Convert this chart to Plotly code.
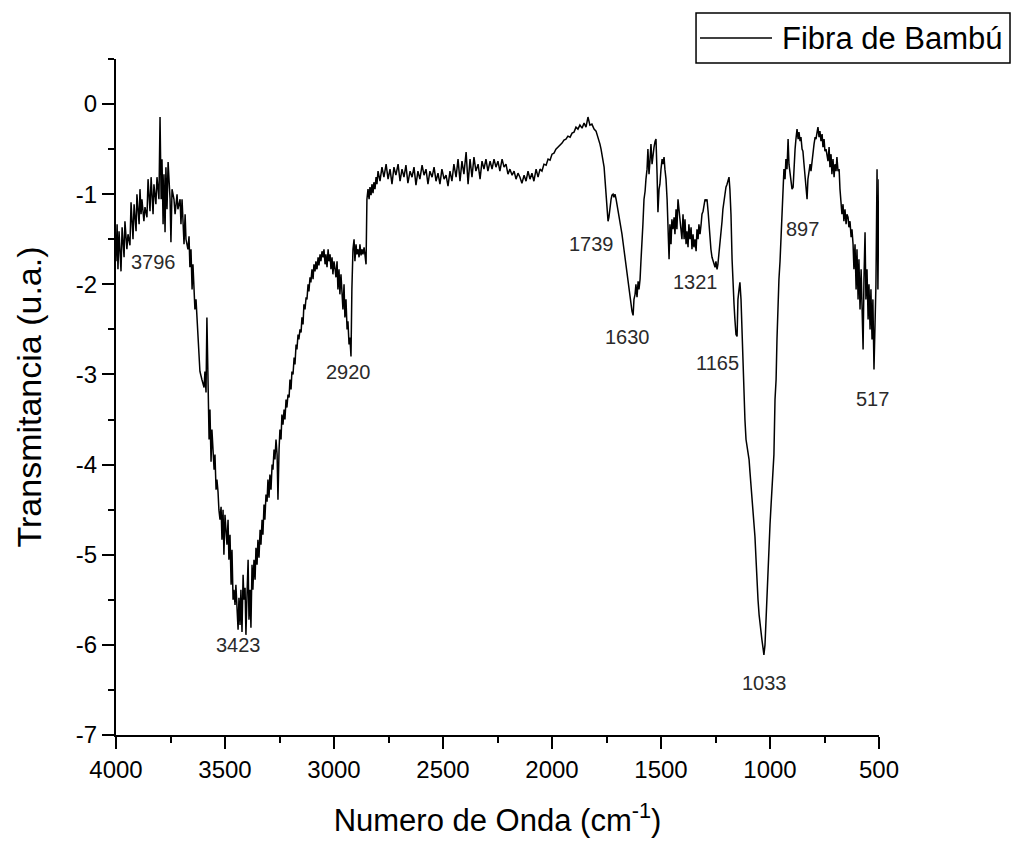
import plotly.graph_objects as go

# FTIR spectrum of bamboo fibre
wavenumber = [
    4000, 3995, 3991, 3986, 3977, 3972, 3963, 3959, 3950, 3945, 3936, 3931, 3922, 3917, 3908, 3904,
    3894, 3890, 3885, 3881, 3872, 3867, 3858, 3853, 3844, 3839, 3830, 3826, 3817, 3812, 3803, 3798,
    3793, 3789, 3784, 3780, 3775, 3771, 3766, 3761, 3752, 3748, 3743, 3734, 3729, 3720, 3716, 3706,
    3702, 3697, 3688, 3683, 3679, 3670, 3665, 3661, 3656, 3651, 3647, 3642, 3638,
    3633, 3628, 3624, 3619, 3615, 3606, 3596, 3592, 3587, 3583, 3578, 3573, 3569, 3564, 3560, 3555,
    3550, 3546, 3541, 3537, 3532, 3528, 3523, 3518, 3514, 3509, 3505, 3500, 3495, 3491, 3486, 3482,
    3477, 3472, 3468, 3463, 3459, 3454, 3450, 3445, 3440, 3436, 3431, 3427, 3422, 3417, 3413, 3408,
    3404, 3399, 3394, 3390, 3385, 3381, 3376, 3372, 3367, 3362, 3358, 3353, 3349, 3344, 3339,
    3335, 3330, 3326, 3321, 3317, 3312, 3307, 3303, 3298, 3294, 3289, 3284, 3280, 3275, 3271, 3266,
    3261, 3257, 3252, 3248, 3243, 3239, 3234, 3229, 3225, 3220, 3216, 3211, 3206, 3202, 3197, 3193,
    3188, 3183, 3179, 3174, 3170, 3165, 3161, 3156, 3151, 3147, 3142, 3138, 3133, 3128, 3124, 3119,
    3115, 3110, 3106, 3101, 3096, 3092, 3087, 3083, 3078, 3073, 3069, 3064, 3060, 3055, 3050, 3046,
    3041, 3037, 3032, 3027, 3023, 3018, 3014, 3009, 3005, 3000, 2995, 2991, 2986, 2982, 2977, 2973,
    2968, 2963, 2959, 2954, 2950, 2945, 2940, 2936, 2931, 2927, 2922, 2918, 2913, 2908, 2904, 2899,
    2895, 2890, 2885, 2881, 2876, 2872, 2867, 2862, 2858, 2853, 2849, 2844, 2839, 2835, 2830, 2826,
    2821, 2817, 2812, 2807, 2803,
    2798, 2789, 2780, 2771, 2761, 2752, 2743, 2734, 2725, 2716, 2706, 2697, 2688, 2679, 2670, 2661,
    2651, 2642, 2633, 2624, 2615, 2606, 2596, 2587, 2578, 2569, 2560, 2550, 2541, 2532, 2523, 2514,
    2505, 2495, 2486, 2477, 2468, 2459, 2450, 2440, 2431, 2422, 2413, 2404, 2394, 2385, 2376, 2367,
    2358, 2349, 2339, 2330, 2321, 2312, 2303, 2294, 2284, 2275, 2266, 2257, 2248, 2239, 2229, 2220,
    2211, 2202, 2193, 2183, 2174, 2165, 2156, 2147, 2138, 2128, 2119, 2110, 2101, 2092, 2083, 2073,
    2064, 2055, 2046, 2037, 2027, 2018, 2009, 2000, 1991, 1982, 1972, 1963, 1954, 1945, 1936, 1927,
    1917, 1908, 1899, 1890, 1881, 1872, 1862, 1853, 1844, 1835, 1826, 1817, 1807, 1798, 1789, 1780,
    1775, 1771, 1766, 1761, 1757, 1752, 1748, 1743, 1739, 1734, 1729, 1725, 1720, 1716, 1711, 1706,
    1702, 1697, 1688, 1679, 1670, 1661, 1651, 1647, 1642, 1638, 1633, 1628, 1624, 1619, 1615, 1610,
    1605, 1601, 1596, 1592, 1587, 1583, 1578, 1573, 1569, 1564, 1560, 1555, 1550, 1546, 1541, 1537,
    1532, 1527, 1523, 1518, 1514, 1509, 1505, 1500, 1495, 1491, 1486, 1482, 1477, 1472, 1468, 1463,
    1459, 1454, 1450, 1445, 1440, 1436, 1431, 1427, 1422, 1417, 1413, 1408, 1404, 1399, 1394, 1390,
    1385, 1381, 1376, 1372, 1367, 1362, 1358, 1353, 1349, 1344, 1339, 1335, 1330, 1326, 1321, 1316,
    1312, 1307, 1303, 1298, 1294, 1289, 1284, 1280, 1275, 1271, 1266, 1261, 1257, 1252, 1248, 1243,
    1239, 1234, 1229, 1225, 1220, 1216, 1211, 1207, 1202, 1197, 1193, 1188, 1184, 1179, 1174, 1170,
    1165, 1161, 1156, 1151, 1147, 1142, 1138, 1133, 1128, 1124, 1119, 1115, 1110, 1106, 1101, 1096,
    1092, 1087, 1083, 1078, 1073, 1069, 1064, 1060, 1055, 1050, 1046, 1041, 1037, 1032, 1028, 1023,
    1018, 1014, 1009, 1005, 1000, 995, 991, 986, 982, 977, 972, 968, 963, 959, 954, 950,
    945, 940, 936, 931, 927, 922, 917, 913, 908, 904, 899, 894, 890, 885, 881, 876,
    871, 867, 862, 858, 853, 849, 844, 839, 835, 830, 826, 821, 816, 812, 807, 803,
    798, 793, 789, 784, 780, 775, 771, 766, 761, 757, 752, 748, 743, 734, 729, 725,
    720, 716, 711, 706, 702, 697, 693, 688, 683, 679, 674, 670, 665, 661, 656, 651,
    647, 642, 638, 633, 628, 624, 619, 615, 610, 605, 601, 596, 592, 587, 582, 578,
    573, 569, 564, 560, 555, 550, 546, 541, 537, 532, 528, 523, 518, 514, 509, 505, 500,
]

transmitancia = [
    -1.744, -1.333, -1.833, -1.411, -1.856, -1.367, -1.700, -1.300, -1.611, -1.444, -1.567, -1.089, -1.500, -1.111, -1.411, -1.000,
    -1.333, -0.944, -1.222, -1.056, -1.300, -1.144, -1.256, -0.833, -1.189, -0.811, -1.222, -0.889, -1.111, -0.811, -1.056, -0.144,
    -1.056, -0.611, -1.333, -0.778, -1.422, -0.700, -1.167, -0.644, -1.056, -1.533, -0.944, -1.056, -1.222, -1.000, -1.167, -1.056,
    -1.333, -1.056, -1.556, -1.222, -1.500, -1.611, -1.467, -1.811, -1.611, -2.056, -1.778, -2.167, -2.278,
    -2.167, -2.389, -2.667, -2.911, -2.967, -3.056, -3.144, -2.967, -3.200, -2.367, -3.278, -3.722, -3.389, -3.967, -3.611, -3.778,
    -4.056, -3.889, -4.278, -4.167, -4.300, -4.500, -4.611, -4.467, -4.833, -4.500, -5.000, -4.556, -4.722, -4.889, -4.611, -5.056,
    -4.778, -5.333, -4.944, -5.500, -5.389, -5.556, -5.333, -5.611, -5.833, -5.478, -5.778, -5.389, -5.856, -5.222, -5.500, -5.367,
    -5.889, -5.444, -5.056, -5.722, -5.389, -5.811, -5.111, -5.389, -5.056, -5.278, -4.922, -5.111, -4.833, -5.033, -4.722,
    -4.889, -4.611, -4.778, -4.444, -4.611, -4.333, -4.411, -4.167, -4.367, -4.111, -4.278, -4.000, -4.056, -3.833, -3.944, -3.722,
    -3.889, -4.389, -3.833, -3.611, -3.722, -3.444, -3.556, -3.389, -3.500, -3.278, -3.367, -3.222, -3.256, -3.056, -3.167, -2.967,
    -3.000, -2.811, -2.889, -2.667, -2.722, -2.556, -2.611, -2.500, -2.533, -2.367, -2.444, -2.222, -2.278, -2.144, -2.167, -2.000,
    -2.078, -1.922, -1.978, -1.833, -1.944, -1.778, -1.856, -1.744, -1.833, -1.700, -1.789, -1.667, -1.744, -1.633, -1.700, -1.611,
    -1.778, -1.667, -1.811, -1.611, -1.744, -1.667, -1.833, -1.700, -1.889, -1.744, -1.833, -1.922, -1.744, -2.056, -1.833, -2.111,
    -1.889, -2.167, -2.278, -2.000, -2.367, -2.167, -2.500, -2.411, -2.667, -2.589, -2.800, -2.056, -1.611, -1.500, -1.744, -1.556,
    -1.667, -1.611, -1.700, -1.556, -1.678, -1.611, -1.667, -1.589, -1.722, -1.778, -1.056, -0.944, -1.056, -0.922, -1.011, -0.889,
    -0.989, -0.867, -0.944, -0.811, -0.889,
    -0.744, -0.856, -0.700, -0.811, -0.667, -0.833, -0.722, -0.889, -0.700, -0.789, -0.667, -0.856, -0.722, -0.811, -0.678, -0.878,
    -0.744, -0.811, -0.700, -0.900, -0.744, -0.833, -0.678, -0.789, -0.722, -0.889, -0.744, -0.811, -0.700, -0.856, -0.767, -0.889,
    -0.722, -0.833, -0.789, -0.911, -0.744, -0.856, -0.667, -0.811, -0.611, -0.856, -0.633, -0.778, -0.533, -0.889, -0.611, -0.811,
    -0.589, -0.744, -0.667, -0.833, -0.633, -0.722, -0.611, -0.744, -0.633, -0.722, -0.611, -0.700, -0.633, -0.744, -0.611, -0.700,
    -0.667, -0.778, -0.722, -0.789, -0.744, -0.833, -0.767, -0.811, -0.878, -0.789, -0.856, -0.744, -0.833, -0.767, -0.856, -0.722,
    -0.811, -0.722, -0.744, -0.667, -0.678, -0.611, -0.622, -0.556, -0.544, -0.500, -0.478, -0.456, -0.433, -0.400, -0.389, -0.356,
    -0.367, -0.322, -0.311, -0.256, -0.278, -0.233, -0.267, -0.211, -0.256, -0.144, -0.233, -0.222, -0.278, -0.300, -0.367, -0.444,
    -0.500, -0.556, -0.633, -0.700, -0.833, -1.000, -1.167, -1.300, -1.256, -1.111, -1.056, -1.011, -1.000, -1.033, -1.000, -1.056,
    -1.111, -1.189, -1.333, -1.444, -1.611, -1.778, -1.944, -2.056, -2.111, -2.222, -2.300, -2.344, -2.167, -2.111, -2.000, -2.144,
    -1.967, -2.056, -1.944, -1.744, -1.556, -1.333, -1.056, -0.967, -0.833, -0.722, -0.500, -0.778, -0.611, -0.444, -0.667, -0.556,
    -0.478, -0.411, -0.389, -0.778, -1.200, -0.944, -0.889, -0.722, -0.611, -0.667, -0.589, -0.722, -0.833, -1.056, -1.500, -1.722,
    -1.333, -1.556, -1.278, -1.389, -1.256, -1.444, -1.167, -1.389, -1.056, -1.167, -1.278, -1.389, -1.500, -1.222, -1.500, -1.278,
    -1.556, -1.411, -1.589, -1.333, -1.500, -1.367, -1.611, -1.444, -1.589, -1.500, -1.633, -1.389, -1.500, -1.333, -1.444, -1.333,
    -1.222, -1.189, -1.111, -1.056, -1.078, -1.056, -1.189, -1.333, -1.500, -1.611, -1.700, -1.744, -1.789, -1.811, -1.744, -1.833,
    -1.778, -1.667, -1.556, -1.444, -1.300, -1.167, -1.056, -1.000, -0.922, -0.889, -0.833, -0.811, -0.944, -1.222, -1.722, -2.056,
    -2.222, -2.389, -2.556, -2.578, -2.167, -2.056, -1.978, -2.167, -2.611, -2.944, -3.278, -3.500, -3.722, -3.778, -3.889, -3.944,
    -4.078, -4.222, -4.333, -4.444, -4.611, -4.800, -5.056, -5.333, -5.500, -5.667, -5.778, -5.889, -5.944, -6.033, -6.111, -6.000,
    -5.700, -5.444, -5.056, -4.833, -4.667, -4.444, -4.278, -4.033, -3.889, -3.278, -3.056, -2.611, -2.167, -1.944, -1.744, -1.500,
    -1.167, -0.944, -0.722, -0.833, -0.611, -0.722, -0.389, -0.667, -0.778, -0.833, -0.944, -0.922, -0.667, -0.500, -0.389, -0.278,
    -0.389, -0.311, -0.411, -0.367, -0.500, -0.522, -0.667, -0.833, -0.944, -1.056, -0.833, -0.722, -0.667, -0.744, -0.611, -0.522,
    -0.444, -0.367, -0.389, -0.311, -0.256, -0.367, -0.300, -0.411, -0.333, -0.478, -0.389, -0.522, -0.500, -0.633, -0.478, -0.700,
    -0.556, -0.778, -0.611, -0.811, -0.667, -0.744, -0.589, -0.744, -0.722, -0.944, -1.111, -1.222, -1.111, -1.300, -1.167, -1.333,
    -1.222, -1.256, -1.367, -1.300, -1.478, -1.389, -1.556, -1.833, -1.556, -2.056, -1.611, -2.167, -1.722, -2.278, -1.833, -2.222,
    -2.722, -1.944, -1.422, -2.167, -1.833, -2.389, -2.000, -2.500, -2.056, -2.611, -2.167, -2.944, -2.278, -2.000, -0.722, -2.056, -0.833,
]

peak_labels = ["3796", "3423", "2920", "1739", "1630", "1321", "1165", "1033", "897", "517"]
peak_label_x = [3826, 3436, 2934, 1821, 1654, 1340, 1241, 1023, 853, 528]
peak_label_y = [-1.756, -6.0, -2.978, -1.556, -2.589, -1.978, -2.878, -6.422, -1.389, -3.267]

y_tickvals = [0, -1, -2, -3, -4, -5, -6, -7]
y_ticktext = ["0", "-1", "-2", "-3", "-4", "-5", "-6", "-7"]
x_tickvals = [4000, 3500, 3000, 2500, 2000, 1500, 1000, 500]
x_ticktext = ["4000", "3500", "3000", "2500", "2000", "1500", "1000", "500"]

series_name = "Fibra de Bambú"

FONT = "Liberation Sans, Arial, sans-serif"

fig = go.Figure()
fig.add_trace(go.Scatter(
    x=wavenumber, y=transmitancia, mode="lines", name=series_name,
    line=dict(color="black", width=1.5), showlegend=False,
))

for txt, xx, yy in zip(peak_labels, peak_label_x, peak_label_y):
    fig.add_annotation(x=xx, y=yy, text=txt, showarrow=False,
                       font=dict(family=FONT, size=20, color="#2a2a2a"),
                       xanchor="center", yanchor="middle")

# manual legend box (Origin style, long line sample)
fig.add_shape(type="rect", xref="paper", yref="paper", x0=0.7602, x1=1.1717, y0=0.994, y1=1.068,
              line=dict(color="black", width=1.5), fillcolor="white")
fig.add_shape(type="line", xref="paper", yref="paper", x0=0.7654, x1=0.8598, y0=1.031, y1=1.031,
              line=dict(color="black", width=1.5))
fig.add_annotation(xref="paper", yref="paper", x=0.8702, y=1.031, text=series_name, showarrow=False,
                   xanchor="left", yanchor="middle", font=dict(family=FONT, size=31, color="black"))

axis_common = dict(
    showline=True, linecolor="black", linewidth=2, showgrid=False, zeroline=False,
    ticks="outside", ticklen=12, tickwidth=2, tickcolor="black",
    tickfont=dict(family=FONT, size=24, color="black"),
)

fig.update_xaxes(
    range=[4000, 500], tickvals=x_tickvals, ticktext=x_ticktext,
    minor=dict(ticks="outside", ticklen=6, tickwidth=2, tickcolor="black", dtick=250, tick0=500, showgrid=False),
    title=dict(text="Numero de Onda (cm<sup>-1</sup>)", font=dict(family=FONT, size=31, color="black"), standoff=28),
    **axis_common,
)
fig.update_yaxes(
    range=[-7, 0.5], tickvals=y_tickvals, ticktext=y_ticktext,
    minor=dict(ticks="outside", ticklen=6, tickwidth=2, tickcolor="black", dtick=0.5, tick0=0, showgrid=False),
    title=dict(text="Transmitancia (u.a.)", font=dict(family=FONT, size=34, color="black"), standoff=24),
    **axis_common,
)

fig.update_layout(
    width=1013, height=844,
    margin=dict(l=116, r=134, t=59, b=109),
    plot_bgcolor="white", paper_bgcolor="white",
    font=dict(family=FONT, color="black"),
)

fig.write_html("out.html")
